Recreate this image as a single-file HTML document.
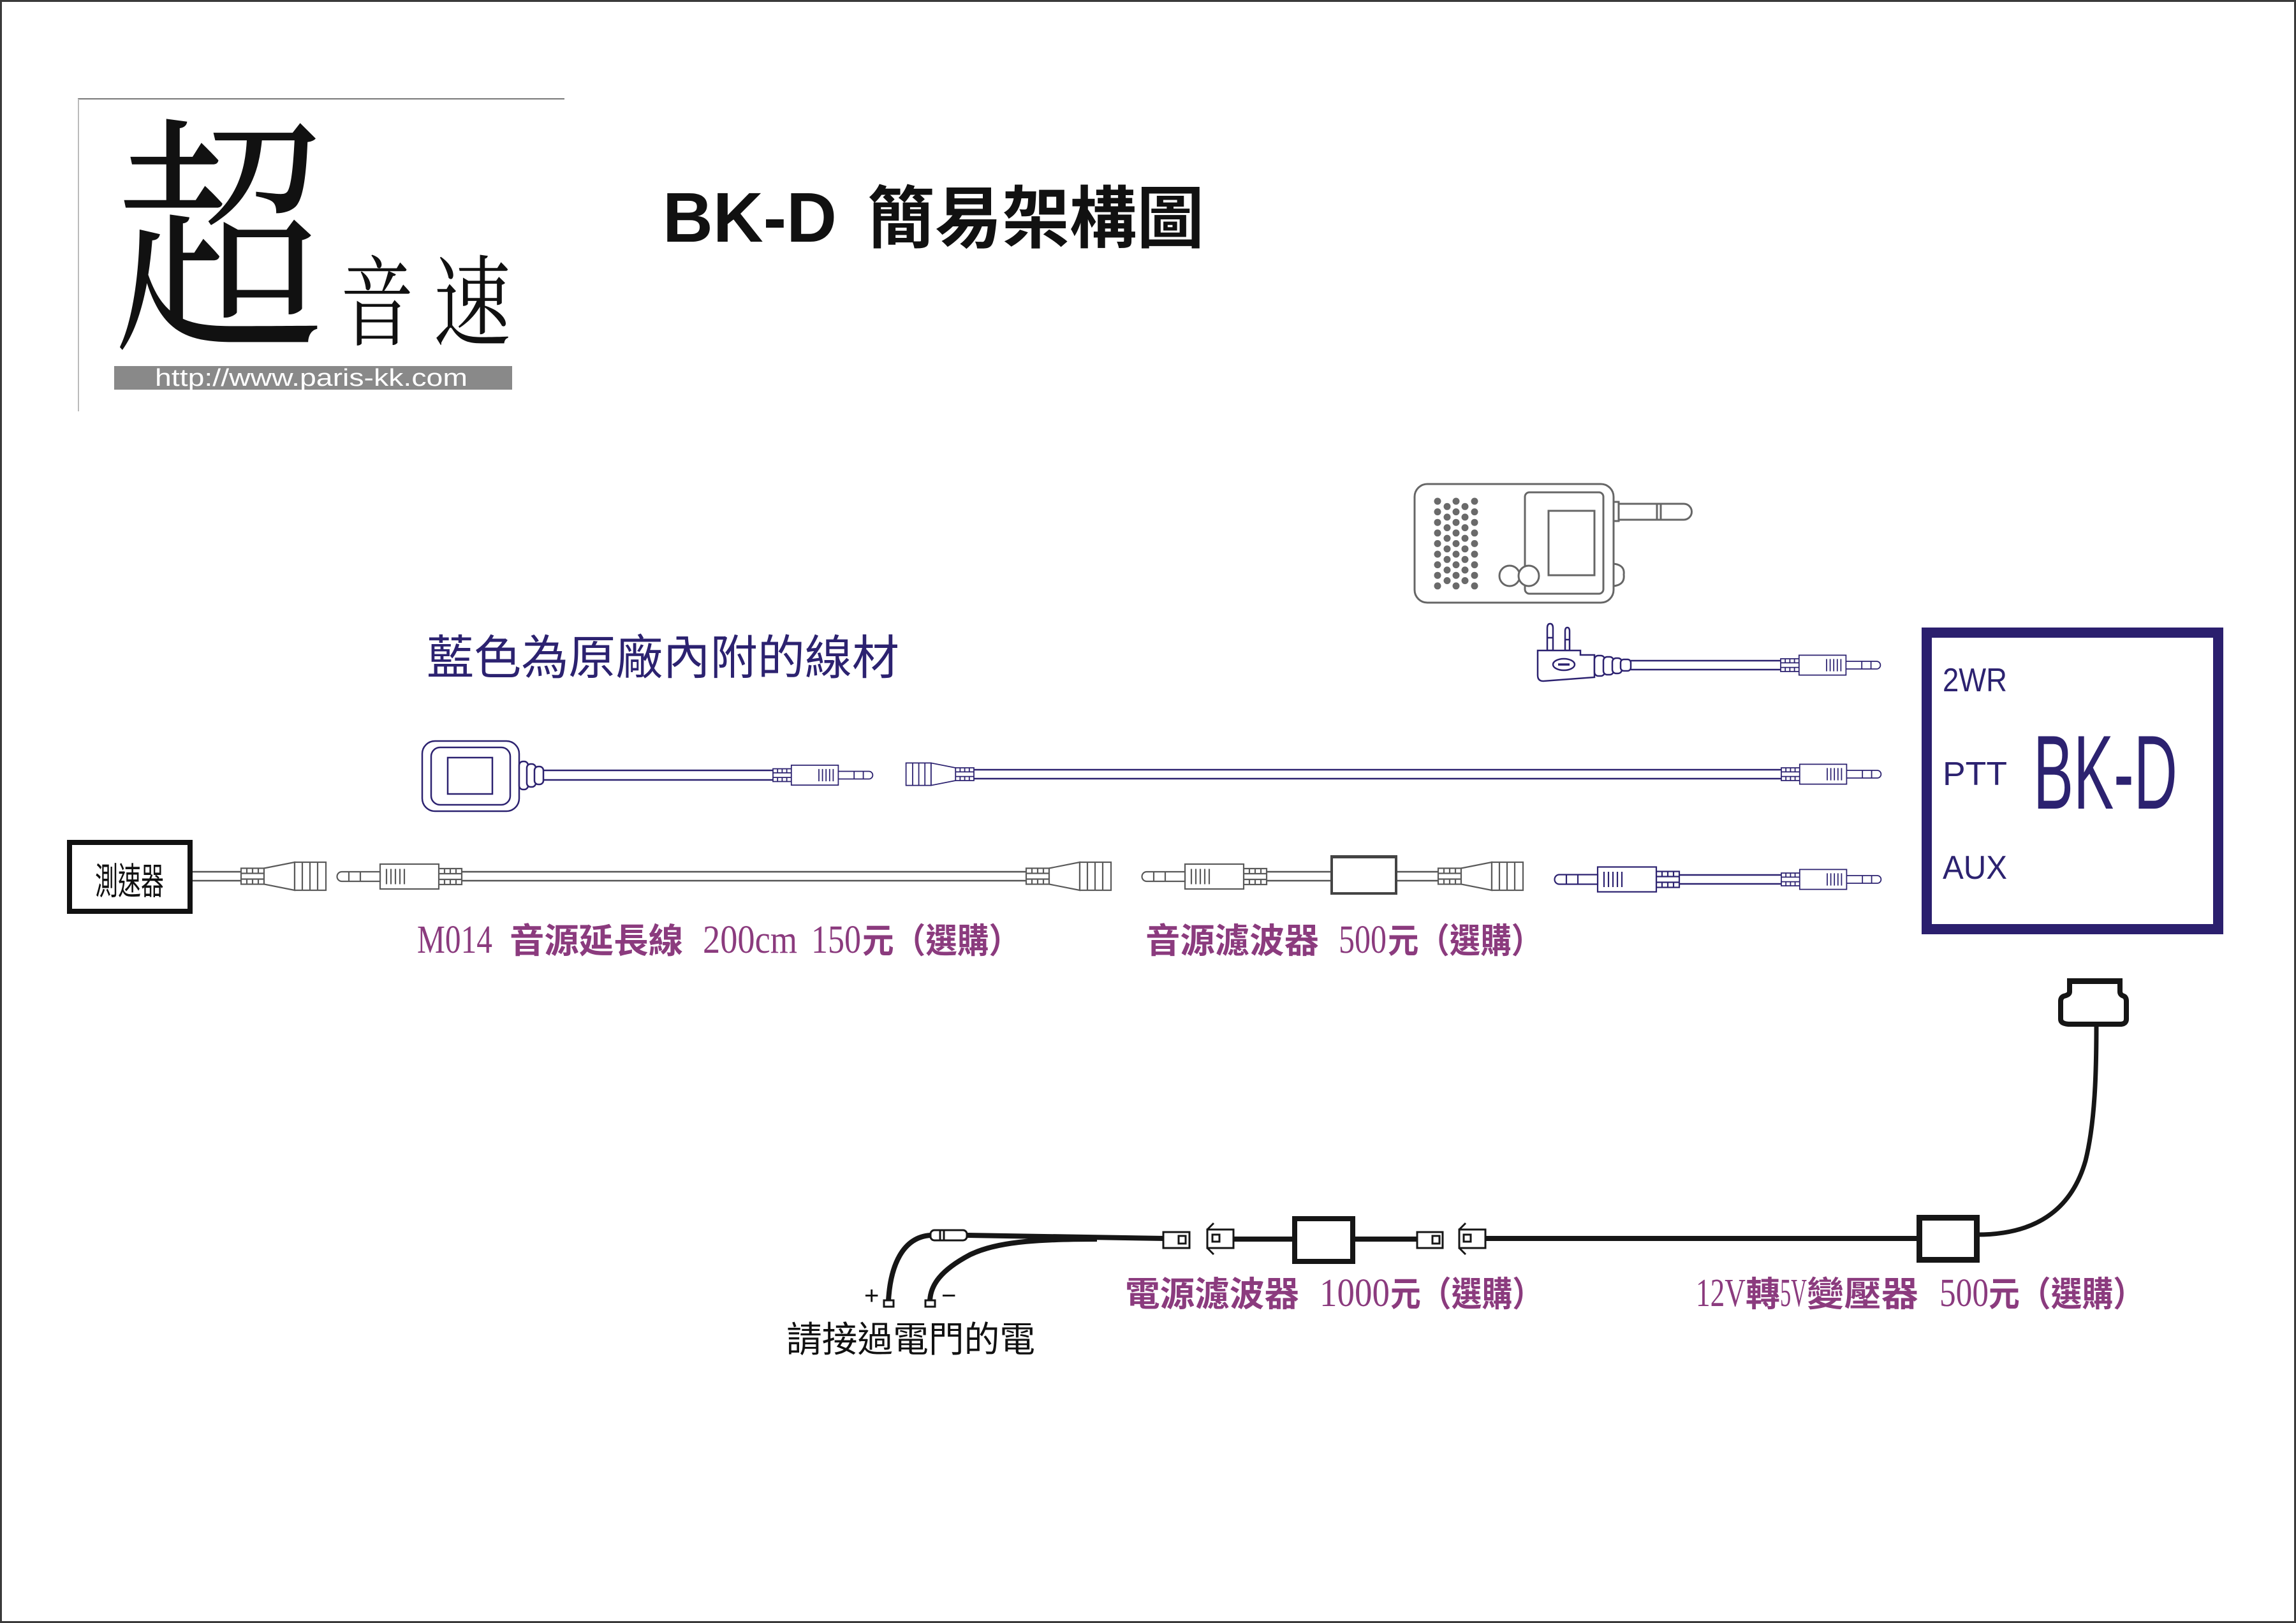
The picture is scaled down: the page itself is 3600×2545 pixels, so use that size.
<!DOCTYPE html>
<html>
<head>
<meta charset="utf-8">
<style>
html,body{margin:0;padding:0;background:#fff;}
svg{display:block;}
</style>
</head>
<body>
<svg xmlns="http://www.w3.org/2000/svg" width="3600" height="2545" viewBox="0 0 3600 2545">
<defs>
  <g id="male" fill="#fff" stroke="currentColor" stroke-width="2.2">
    <rect x="0" y="-12.5" width="36" height="25"/>
    <path d="M0,-4.5H36M0,4.5H36M9,-12.5V-4.5M18,-12.5V-4.5M27,-12.5V-4.5M9,4.5V12.5M18,4.5V12.5M27,4.5V12.5" fill="none"/>
    <rect x="36" y="-19.5" width="92" height="39"/>
    <path d="M90,-12V12M97,-12V12M104,-12V12M111,-12V12M118,-12V12" fill="none"/>
    <path d="M128,-7.5H188A7.5,7.5 0 0 1 188,7.5H128Z"/>
    <path d="M159,-7.5V7.5M177,-7.5V7.5" fill="none"/>
  </g>
  <g id="female" fill="#fff" stroke="currentColor" stroke-width="2.2">
    <rect x="0" y="-12.5" width="36" height="25"/>
    <path d="M0,-4.5H36M0,4.5H36M9,-12.5V-4.5M18,-12.5V-4.5M27,-12.5V-4.5M9,4.5V12.5M18,4.5V12.5M27,4.5V12.5" fill="none"/>
    <path d="M36,-12.5L84,-22V22L36,12.5Z"/>
    <rect x="84" y="-22" width="49" height="44"/>
    <path d="M96,-22V22M108,-22V22M120,-22V22" fill="none"/>
  </g>
</defs>

<!-- page frame -->
<rect x="1.5" y="1.5" width="3597" height="2542" fill="none" stroke="#3a3a3a" stroke-width="3"/>

<!-- logo -->
<line x1="122" y1="155" x2="885" y2="155" stroke="#777" stroke-width="2"/>
<line x1="123" y1="155" x2="123" y2="645" stroke="#bbb" stroke-width="2"/>
<text transform="translate(185,0) scale(0.83,1)" x="-8" y="519" font-size="397" font-weight="400" font-family="'Noto Serif CJK SC','Noto Sans CJK TC',serif" fill="#111">超</text>
<text transform="translate(536,0) scale(0.74,1)" x="-3" y="530" font-size="155" font-weight="400" font-family="'Noto Serif CJK SC','Noto Sans CJK TC',serif" fill="#111">音</text>
<text transform="translate(682,0) scale(0.78,1)" x="-3" y="530" font-size="155" font-weight="400" font-family="'Noto Serif CJK SC','Noto Sans CJK TC',serif" fill="#111">速</text>
<rect x="179" y="574" width="624" height="37" fill="#898989"/>
<text x="243" y="605" font-size="38" textLength="490" lengthAdjust="spacingAndGlyphs" font-family="'Liberation Sans',sans-serif" fill="#fff">http://www.paris-kk.com</text>

<!-- title -->
<text x="1039" y="379" font-size="110" font-weight="700" textLength="273" lengthAdjust="spacingAndGlyphs" font-family="'Liberation Sans',sans-serif" fill="#111">BK-D</text>
<text x="1360" y="380" font-size="106" font-weight="700" textLength="528" lengthAdjust="spacingAndGlyphs" font-family="'Noto Sans CJK TC',sans-serif" fill="#111">簡易架構圖</text>

<!-- note -->
<text x="669" y="1057" font-size="74" textLength="741" lengthAdjust="spacingAndGlyphs" font-family="'Liberation Sans','Noto Sans CJK TC',sans-serif" fill="#2c2270">藍色為原廠內附的線材</text>

<!-- radio -->
<g fill="#fff" stroke="#666" stroke-width="3">
  <rect x="2530" y="787" width="8" height="30"/>
  <rect x="2538" y="790" width="60" height="25"/>
  <path d="M2598,790H2640A12.5,12.5 0 0 1 2640,815H2598Z"/>
  <line x1="2604" y1="790" x2="2604" y2="815"/>
  <path d="M2530,884Q2548,886 2546,901Q2548,917 2530,919"/>
  <rect x="2218" y="759" width="312" height="186" rx="20"/>
  <rect x="2391" y="772" width="123" height="159" rx="7"/>
  <rect x="2428" y="801" width="72" height="101"/>
  <circle cx="2367" cy="903" r="16"/>
  <circle cx="2397" cy="903" r="16"/>
</g>
<g fill="#6a6a6a">
  <circle cx="2254" cy="786" r="5.5"/><circle cx="2254" cy="802.6" r="5.5"/><circle cx="2254" cy="819.2" r="5.5"/><circle cx="2254" cy="835.8" r="5.5"/><circle cx="2254" cy="852.4" r="5.5"/><circle cx="2254" cy="869" r="5.5"/><circle cx="2254" cy="885.6" r="5.5"/><circle cx="2254" cy="902.2" r="5.5"/><circle cx="2254" cy="918.8" r="5.5"/>
  <circle cx="2283" cy="786" r="5.5"/><circle cx="2283" cy="802.6" r="5.5"/><circle cx="2283" cy="819.2" r="5.5"/><circle cx="2283" cy="835.8" r="5.5"/><circle cx="2283" cy="852.4" r="5.5"/><circle cx="2283" cy="869" r="5.5"/><circle cx="2283" cy="885.6" r="5.5"/><circle cx="2283" cy="902.2" r="5.5"/><circle cx="2283" cy="918.8" r="5.5"/>
  <circle cx="2312" cy="786" r="5.5"/><circle cx="2312" cy="802.6" r="5.5"/><circle cx="2312" cy="819.2" r="5.5"/><circle cx="2312" cy="835.8" r="5.5"/><circle cx="2312" cy="852.4" r="5.5"/><circle cx="2312" cy="869" r="5.5"/><circle cx="2312" cy="885.6" r="5.5"/><circle cx="2312" cy="902.2" r="5.5"/><circle cx="2312" cy="918.8" r="5.5"/>
  <circle cx="2269" cy="794.3" r="5.5"/><circle cx="2269" cy="810.9" r="5.5"/><circle cx="2269" cy="827.5" r="5.5"/><circle cx="2269" cy="844.1" r="5.5"/><circle cx="2269" cy="860.7" r="5.5"/><circle cx="2269" cy="877.3" r="5.5"/><circle cx="2269" cy="893.9" r="5.5"/><circle cx="2269" cy="910.5" r="5.5"/>
  <circle cx="2297" cy="794.3" r="5.5"/><circle cx="2297" cy="810.9" r="5.5"/><circle cx="2297" cy="827.5" r="5.5"/><circle cx="2297" cy="844.1" r="5.5"/><circle cx="2297" cy="860.7" r="5.5"/><circle cx="2297" cy="877.3" r="5.5"/><circle cx="2297" cy="893.9" r="5.5"/><circle cx="2297" cy="910.5" r="5.5"/>
</g>

<!-- radio plug cable (blue) -->
<g fill="#fff" stroke="#2c2270" stroke-width="2.5">
  <path d="M2426,1020V985Q2426,978 2430.5,978Q2435,978 2435,985V1020Z"/>
  <line x1="2426" y1="1000" x2="2435" y2="1000"/>
  <path d="M2454,1020V990Q2454,984 2457.5,984Q2461,984 2461,990V1020Z"/>
  <line x1="2454" y1="1003" x2="2461" y2="1003"/>
  <path d="M2411,1020H2478V1027H2500V1062L2420,1068Q2411,1068 2411,1059Z"/>
  <ellipse cx="2452" cy="1042" rx="17" ry="9"/>
  <line x1="2443" y1="1042" x2="2461" y2="1042" stroke-width="3.5"/>
  <rect x="2500" y="1028" width="16" height="32" rx="6"/>
  <rect x="2514" y="1030" width="16" height="28" rx="6"/>
  <rect x="2528" y="1032" width="15" height="24" rx="6"/>
  <rect x="2541" y="1034" width="16" height="18" rx="5"/>
  <path d="M2557,1036H2793M2557,1050H2793" fill="none"/>
</g>
<use href="#male" transform="translate(2792,1043) scale(0.8)" color="#2c2270"/>

<!-- BK-D box -->
<rect x="3021" y="992" width="457" height="465" fill="#fff" stroke="#2b1f6e" stroke-width="16"/>
<g font-family="'Liberation Sans',sans-serif" fill="#2c2270">
  <text x="3046" y="1084" font-size="52" textLength="101" lengthAdjust="spacingAndGlyphs">2WR</text>
  <text x="3046" y="1231" font-size="52" textLength="101" lengthAdjust="spacingAndGlyphs">PTT</text>
  <text x="3046" y="1378" font-size="52" textLength="101" lengthAdjust="spacingAndGlyphs">AUX</text>
  <text x="3188" y="1268" font-size="165" textLength="226" lengthAdjust="spacingAndGlyphs">BK-D</text>
</g>

<!-- blue device + cable -->
<g fill="#fff" stroke="#2c2270" stroke-width="2.5">
  <rect x="662" y="1162" width="152" height="110" rx="20"/>
  <rect x="676" y="1172" width="124" height="90" rx="14"/>
  <rect x="702" y="1188" width="70" height="57"/>
  <rect x="814" y="1194" width="14" height="44" rx="6"/>
  <rect x="826" y="1198" width="14" height="36" rx="6"/>
  <rect x="838" y="1202" width="14" height="28" rx="6"/>
  <path d="M852,1208H1213M852,1223H1213" fill="none"/>
</g>
<use href="#male" transform="translate(1212,1215.5) scale(0.8)" color="#2c2270"/>

<!-- PTT blue cable -->
<path d="M1527,1207H2794M1527,1221H2794" stroke="#2c2270" stroke-width="2.5" fill="none"/>
<use href="#female" transform="translate(1527,1214) scale(-0.8,0.8)" color="#2c2270"/>
<use href="#male" transform="translate(2793,1214) scale(0.8)" color="#2c2270"/>

<!-- gray row -->
<rect x="109" y="1321" width="189" height="108" fill="#fff" stroke="#111" stroke-width="8"/>
<text x="149" y="1402" font-size="58" textLength="108" lengthAdjust="spacingAndGlyphs" font-family="'Liberation Sans','Noto Sans CJK TC',sans-serif" fill="#111">測速器</text>
<g stroke="#555" stroke-width="2.4" fill="none">
  <path d="M302,1367H380M302,1381H380"/>
  <path d="M722,1367H1611M722,1381H1611"/>
  <path d="M1984,1367H2088M1984,1381H2088"/>
  <path d="M2189,1367H2257M2189,1381H2257"/>
</g>
<use href="#female" transform="translate(378,1374)" color="#5a5a5a"/>
<use href="#male" transform="translate(724,1374.5) scale(-1,1)" color="#5a5a5a"/>
<use href="#female" transform="translate(1609,1374)" color="#5a5a5a"/>
<use href="#male" transform="translate(1986,1374.5) scale(-1,1)" color="#5a5a5a"/>
<rect x="2088" y="1343" width="101" height="58" fill="#fff" stroke="#444" stroke-width="4"/>
<rect x="2086" y="1341" width="105" height="5" fill="#444"/>
<use href="#female" transform="translate(2255,1374)" color="#5a5a5a"/>

<!-- AUX blue cable -->
<path d="M2631,1372H2794M2631,1386H2794" stroke="#2c2270" stroke-width="2.5" fill="none"/>
<use href="#male" transform="translate(2633,1379) scale(-1,1)" color="#2c2270"/>
<use href="#male" transform="translate(2793,1379) scale(0.8)" color="#2c2270"/>

<!-- purple labels row 1 -->
<g fill="#8b3b7e">
  <text x="654" y="1494" font-size="62" textLength="118" lengthAdjust="spacingAndGlyphs" font-family="'Liberation Serif',serif">M014</text>
  <text x="799" y="1494" font-size="54" font-weight="700" textLength="272" lengthAdjust="spacingAndGlyphs" font-family="'Noto Sans CJK TC',sans-serif">音源延長線</text>
  <text x="1102" y="1494" font-size="62" textLength="148" lengthAdjust="spacingAndGlyphs" font-family="'Liberation Serif',serif">200cm</text>
  <text x="1272" y="1494" font-size="62" textLength="78" lengthAdjust="spacingAndGlyphs" font-family="'Liberation Serif',serif">150</text>
  <text x="1352" y="1494" font-size="54" font-weight="700" textLength="248" lengthAdjust="spacingAndGlyphs" font-family="'Noto Sans CJK TC',sans-serif">元（選購）</text>

  <text x="1796" y="1494" font-size="54" font-weight="700" textLength="272" lengthAdjust="spacingAndGlyphs" font-family="'Noto Sans CJK TC',sans-serif">音源濾波器</text>
  <text x="2099" y="1494" font-size="62" textLength="75" lengthAdjust="spacingAndGlyphs" font-family="'Liberation Serif',serif">500</text>
  <text x="2176" y="1494" font-size="54" font-weight="700" textLength="242" lengthAdjust="spacingAndGlyphs" font-family="'Noto Sans CJK TC',sans-serif">元（選購）</text>
</g>

<!-- power section -->
<g fill="none" stroke="#161616" stroke-linecap="butt">
  <path d="M1826,1942L1516,1937" stroke-width="8"/>
  <path d="M1459,1937C1415,1940 1396,1985 1393,2040" stroke-width="8"/>
  <path d="M1720,1943C1620,1943 1560,1948 1520,1968C1475,1992 1459,2015 1458,2040" stroke-width="8"/>
  <path d="M1934,1943H2030" stroke-width="8"/>
  <path d="M2121,1943H2223" stroke-width="8"/>
  <path d="M2327,1942H3010" stroke-width="8"/>
  <path d="M3100,1936C3200,1936 3250,1890 3270,1820C3285,1760 3287,1680 3287,1608" stroke-width="7"/>
</g>
<g fill="#fff" stroke="#161616" stroke-width="3">
  <rect x="1459" y="1929" width="57" height="16" rx="6"/>
  <line x1="1474" y1="1929" x2="1474" y2="1945"/>
  <line x1="1480" y1="1929" x2="1480" y2="1945"/>
  <rect x="1386" y="2039" width="15" height="10"/>
  <rect x="1451" y="2039" width="15" height="10"/>
  <rect x="1824" y="1932" width="41" height="25"/>
  <rect x="1848" y="1938" width="11" height="12"/>
  <rect x="1893" y="1928" width="41" height="29"/>
  <rect x="1901" y="1936" width="11" height="11"/>
  <path d="M1893,1928L1903,1918M1893,1957L1903,1967" fill="none"/>
  <rect x="2222" y="1932" width="40" height="25"/>
  <rect x="2246" y="1938" width="11" height="12"/>
  <rect x="2288" y="1928" width="41" height="29"/>
  <rect x="2295" y="1936" width="11" height="11"/>
  <path d="M2288,1928L2298,1918M2288,1957L2298,1967" fill="none"/>
</g>
<rect x="2030" y="1911" width="91" height="67" fill="#fff" stroke="#161616" stroke-width="8"/>
<rect x="3009.5" y="1909.5" width="90" height="66" fill="#fff" stroke="#161616" stroke-width="9"/>
<path d="M3245,1538L3324,1538L3324,1555Q3324,1560 3330,1562Q3334,1564 3334,1570L3334,1598Q3334,1605 3326,1606L3243,1606Q3231,1605 3231,1598L3231,1570Q3231,1564 3236,1562Q3245,1560 3245,1555Z" fill="#fff" stroke="#161616" stroke-width="8"/>
<rect x="3241" y="1534" width="87" height="9" fill="#161616"/>

<text x="1355" y="2045" font-size="40" font-family="'Liberation Sans',sans-serif" fill="#111">+</text>
<text x="1476" y="2045" font-size="40" font-family="'Liberation Sans',sans-serif" fill="#111">−</text>
<text x="1233" y="2120" font-size="56" textLength="390" lengthAdjust="spacingAndGlyphs" font-family="'Liberation Sans','Noto Sans CJK TC',sans-serif" fill="#111">請接過電門的電</text>

<g fill="#8b3b7e">
  <text x="1764" y="2048" font-size="54" font-weight="700" textLength="273" lengthAdjust="spacingAndGlyphs" font-family="'Noto Sans CJK TC',sans-serif">電源濾波器</text>
  <text x="2069" y="2048" font-size="62" textLength="110" lengthAdjust="spacingAndGlyphs" font-family="'Liberation Serif',serif">1000</text>
  <text x="2180" y="2048" font-size="54" font-weight="700" textLength="239" lengthAdjust="spacingAndGlyphs" font-family="'Noto Sans CJK TC',sans-serif">元（選購）</text>

  <text x="2659" y="2048" font-size="62" textLength="78" lengthAdjust="spacingAndGlyphs" font-family="'Liberation Serif',serif">12V</text>
  <text x="2737" y="2048" font-size="54" font-weight="700" textLength="54" lengthAdjust="spacingAndGlyphs" font-family="'Noto Sans CJK TC',sans-serif">轉</text>
  <text x="2791" y="2048" font-size="62" textLength="42" lengthAdjust="spacingAndGlyphs" font-family="'Liberation Serif',serif">5V</text>
  <text x="2833" y="2048" font-size="54" font-weight="700" textLength="175" lengthAdjust="spacingAndGlyphs" font-family="'Noto Sans CJK TC',sans-serif">變壓器</text>
  <text x="3041" y="2048" font-size="62" textLength="77" lengthAdjust="spacingAndGlyphs" font-family="'Liberation Serif',serif">500</text>
  <text x="3118" y="2048" font-size="54" font-weight="700" textLength="244" lengthAdjust="spacingAndGlyphs" font-family="'Noto Sans CJK TC',sans-serif">元（選購）</text>
</g>
</svg>
</body>
</html>
